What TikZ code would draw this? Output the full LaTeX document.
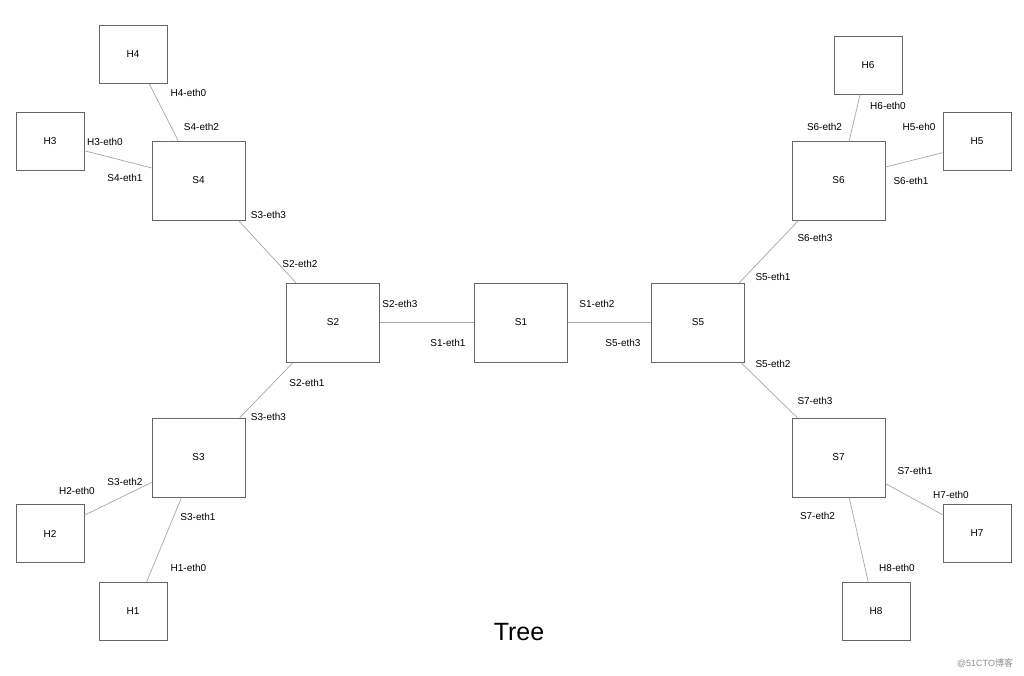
\documentclass[tikz,border=0pt]{standalone}
\usepackage{fontspec}
\setmainfont{Liberation Sans}
\newfontfamily\cjkfont{Noto Sans CJK SC}
\begin{document}
\begin{tikzpicture}[x=1pt,y=-1pt,
    switch/.style={draw=black!60,line width=0.8pt,minimum width=93pt,minimum height=79pt,inner sep=0pt,font=\fontsize{10}{12}\selectfont},
    host/.style={switch,minimum width=68pt,minimum height=58pt},
    lien/.style={draw=black!35,line width=0.7pt},
    port/.style={inner sep=0pt,font=\fontsize{10}{12}\selectfont}]
    \useasboundingbox (0,0) rectangle (1024,675);

    % Switches
    \node[switch] (S1) at (521,322.5) {S1};
    \node[switch] (S2) at (333,322.5) {S2};
    \node[switch] (S3) at (198.5,457.5) {S3};
    \node[switch] (S4) at (198.5,180.5) {S4};
    \node[switch] (S5) at (698,322.5) {S5};
    \node[switch] (S6) at (838.5,180.5) {S6};
    \node[switch] (S7) at (838.5,457.5) {S7};

    % Hosts
    \node[host] (H1) at (133,611) {H1};
    \node[host] (H2) at (50,533.5) {H2};
    \node[host] (H3) at (50,141.5) {H3};
    \node[host] (H4) at (133,54.5) {H4};
    \node[host] (H5) at (977,141.5) {H5};
    \node[host] (H6) at (868,65) {H6};
    \node[host] (H7) at (977,533) {H7};
    \node[host] (H8) at (876,611) {H8};

    % Liens
    \draw[lien] (S2.east) -- (S1.west);
    \draw[lien] (S1.east) -- (S5.west);
    \draw[lien] (S4.-45.7) -- (S2.133.9);
    \draw[lien] (S2.-135.4) -- (S3.44.3);
    \draw[lien] (S5.44.6) -- (S6.-135);
    \draw[lien] (S5.-43.2) -- (S7.136.4);
    \draw[lien] (H4.-61.5) -- (S4.117.4);
    \draw[lien] (H3.-15.6) -- (S4.165);
    \draw[lien] (S3.-152.2) -- (H2.28.6);
    \draw[lien] (S3.-113.9) -- (H1.65.9);
    \draw[lien] (H6.-105.4) -- (S6.75.1);
    \draw[lien] (H5.-162.8) -- (S6.16.2);
    \draw[lien] (S7.-29.7) -- (H7.152.1);
    \draw[lien] (S7.-75.5) -- (H8.105.4);

    % Interfaces
    \node[port] (pH4) at (188.5,93) {H4-eth0};
    \node[port] (pS4b) at (201.5,127) {S4-eth2};
    \node[port] (pH3) at (105,142) {H3-eth0};
    \node[port] (pS4a) at (125,178) {S4-eth1};
    \node[port] (pS4c) at (268.5,215) {S3-eth3};
    \node[port] (pS2b) at (300,264) {S2-eth2};
    \node[port] (pS2c) at (400,304) {S2-eth3};
    \node[port] (pS1a) at (448,343) {S1-eth1};
    \node[port] (pS1b) at (597,304) {S1-eth2};
    \node[port] (pS5c) at (623,343) {S5-eth3};
    \node[port] (pS2a) at (307,383) {S2-eth1};
    \node[port] (pS3c) at (268.5,417) {S3-eth3};
    \node[port] (pS3b) at (125,482) {S3-eth2};
    \node[port] (pH2) at (77,491) {H2-eth0};
    \node[port] (pS3a) at (198,517) {S3-eth1};
    \node[port] (pH1) at (188.5,568) {H1-eth0};
    \node[port] (pH6) at (888,106) {H6-eth0};
    \node[port] (pS6b) at (824.5,127) {S6-eth2};
    \node[port] (pH5) at (919,127) {H5-eh0};
    \node[port] (pS6a) at (911,181) {S6-eth1};
    \node[port] (pS6c) at (815,238) {S6-eth3};
    \node[port] (pS5a) at (773,277) {S5-eth1};
    \node[port] (pS5b) at (773,364) {S5-eth2};
    \node[port] (pS7c) at (815,401) {S7-eth3};
    \node[port] (pS7a) at (915,471) {S7-eth1};
    \node[port] (pH7) at (951,495) {H7-eth0};
    \node[port] (pS7b) at (817.5,516) {S7-eth2};
    \node[port] (pH8) at (897,568) {H8-eth0};

    % Titre
    \node[font=\fontsize{25}{30}\selectfont] (titre) at (519,632) {Tree};
    \node[text=black!45,font=\fontsize{9}{11}\selectfont] (marque) at (985,663) {@51CTO{\cjkfont 博客}};
\end{tikzpicture}
\end{document}
